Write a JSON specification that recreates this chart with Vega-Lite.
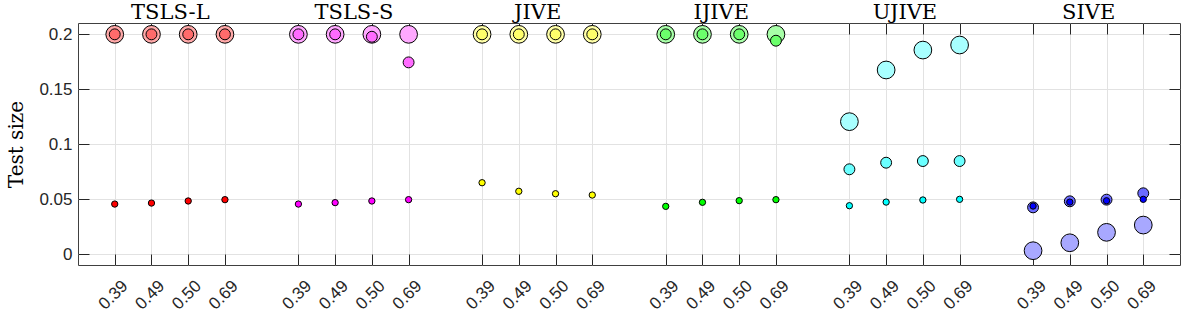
{
  "$schema": "https://vega.github.io/schema/vega-lite/v6.json",
  "width": 1102,
  "height": 242,
  "autosize": {"type": "none"},
  "padding": {"left": 78, "top": 23, "right": 16, "bottom": 51},
  "background": "white",
  "config": {
    "view": {"stroke": "#404040", "strokeWidth": 1},
    "axis": {
      "labelFont": "Liberation Sans",
      "labelFontSize": 17,
      "labelColor": "#262626",
      "tickColor": "#262626",
      "tickWidth": 1,
      "gridColor": "#e2e2e2",
      "gridWidth": 1,
      "domain": false,
      "titleFont": "DejaVu Serif",
      "titleFontWeight": "normal",
      "titleColor": "#000000"
    }
  },
  "datasets": {
    "set3": [
      {"estimator": "TSLS-L", "cell": "TSLS-L|0.39", "value": 0.2},
      {"estimator": "TSLS-L", "cell": "TSLS-L|0.49", "value": 0.2},
      {"estimator": "TSLS-L", "cell": "TSLS-L|0.50", "value": 0.2},
      {"estimator": "TSLS-L", "cell": "TSLS-L|0.69", "value": 0.2},
      {"estimator": "TSLS-S", "cell": "TSLS-S|0.39", "value": 0.2},
      {"estimator": "TSLS-S", "cell": "TSLS-S|0.49", "value": 0.2},
      {"estimator": "TSLS-S", "cell": "TSLS-S|0.50", "value": 0.2},
      {"estimator": "TSLS-S", "cell": "TSLS-S|0.69", "value": 0.2},
      {"estimator": "JIVE", "cell": "JIVE|0.39", "value": 0.2},
      {"estimator": "JIVE", "cell": "JIVE|0.49", "value": 0.2},
      {"estimator": "JIVE", "cell": "JIVE|0.50", "value": 0.2},
      {"estimator": "JIVE", "cell": "JIVE|0.69", "value": 0.2},
      {"estimator": "IJIVE", "cell": "IJIVE|0.39", "value": 0.2},
      {"estimator": "IJIVE", "cell": "IJIVE|0.49", "value": 0.2},
      {"estimator": "IJIVE", "cell": "IJIVE|0.50", "value": 0.2},
      {"estimator": "IJIVE", "cell": "IJIVE|0.69", "value": 0.2},
      {"estimator": "UJIVE", "cell": "UJIVE|0.39", "value": 0.1206},
      {"estimator": "UJIVE", "cell": "UJIVE|0.49", "value": 0.1676},
      {"estimator": "UJIVE", "cell": "UJIVE|0.50", "value": 0.1857},
      {"estimator": "UJIVE", "cell": "UJIVE|0.69", "value": 0.1903},
      {"estimator": "SIVE", "cell": "SIVE|0.39", "value": 0.0033},
      {"estimator": "SIVE", "cell": "SIVE|0.49", "value": 0.0105},
      {"estimator": "SIVE", "cell": "SIVE|0.50", "value": 0.0200},
      {"estimator": "SIVE", "cell": "SIVE|0.69", "value": 0.0266}
    ],
    "set2": [
      {"estimator": "TSLS-L", "cell": "TSLS-L|0.39", "value": 0.2},
      {"estimator": "TSLS-L", "cell": "TSLS-L|0.49", "value": 0.2},
      {"estimator": "TSLS-L", "cell": "TSLS-L|0.50", "value": 0.2},
      {"estimator": "TSLS-L", "cell": "TSLS-L|0.69", "value": 0.2},
      {"estimator": "TSLS-S", "cell": "TSLS-S|0.39", "value": 0.2},
      {"estimator": "TSLS-S", "cell": "TSLS-S|0.49", "value": 0.2},
      {"estimator": "TSLS-S", "cell": "TSLS-S|0.50", "value": 0.1978},
      {"estimator": "TSLS-S", "cell": "TSLS-S|0.69", "value": 0.1745},
      {"estimator": "JIVE", "cell": "JIVE|0.39", "value": 0.2},
      {"estimator": "JIVE", "cell": "JIVE|0.49", "value": 0.2},
      {"estimator": "JIVE", "cell": "JIVE|0.50", "value": 0.2},
      {"estimator": "JIVE", "cell": "JIVE|0.69", "value": 0.2},
      {"estimator": "IJIVE", "cell": "IJIVE|0.39", "value": 0.2},
      {"estimator": "IJIVE", "cell": "IJIVE|0.49", "value": 0.2},
      {"estimator": "IJIVE", "cell": "IJIVE|0.50", "value": 0.2},
      {"estimator": "IJIVE", "cell": "IJIVE|0.69", "value": 0.1942},
      {"estimator": "UJIVE", "cell": "UJIVE|0.39", "value": 0.0773},
      {"estimator": "UJIVE", "cell": "UJIVE|0.49", "value": 0.0833},
      {"estimator": "UJIVE", "cell": "UJIVE|0.50", "value": 0.0848},
      {"estimator": "UJIVE", "cell": "UJIVE|0.69", "value": 0.0848},
      {"estimator": "SIVE", "cell": "SIVE|0.39", "value": 0.0427},
      {"estimator": "SIVE", "cell": "SIVE|0.49", "value": 0.0482},
      {"estimator": "SIVE", "cell": "SIVE|0.50", "value": 0.0497},
      {"estimator": "SIVE", "cell": "SIVE|0.69", "value": 0.0555}
    ],
    "set1": [
      {"estimator": "TSLS-L", "cell": "TSLS-L|0.39", "value": 0.0457},
      {"estimator": "TSLS-L", "cell": "TSLS-L|0.49", "value": 0.0466},
      {"estimator": "TSLS-L", "cell": "TSLS-L|0.50", "value": 0.0485},
      {"estimator": "TSLS-L", "cell": "TSLS-L|0.69", "value": 0.0497},
      {"estimator": "TSLS-S", "cell": "TSLS-S|0.39", "value": 0.0457},
      {"estimator": "TSLS-S", "cell": "TSLS-S|0.49", "value": 0.047},
      {"estimator": "TSLS-S", "cell": "TSLS-S|0.50", "value": 0.0485},
      {"estimator": "TSLS-S", "cell": "TSLS-S|0.69", "value": 0.0497},
      {"estimator": "JIVE", "cell": "JIVE|0.39", "value": 0.0651},
      {"estimator": "JIVE", "cell": "JIVE|0.49", "value": 0.0573},
      {"estimator": "JIVE", "cell": "JIVE|0.50", "value": 0.0551},
      {"estimator": "JIVE", "cell": "JIVE|0.69", "value": 0.0539},
      {"estimator": "IJIVE", "cell": "IJIVE|0.39", "value": 0.0436},
      {"estimator": "IJIVE", "cell": "IJIVE|0.49", "value": 0.0473},
      {"estimator": "IJIVE", "cell": "IJIVE|0.50", "value": 0.0488},
      {"estimator": "IJIVE", "cell": "IJIVE|0.69", "value": 0.0497},
      {"estimator": "UJIVE", "cell": "UJIVE|0.39", "value": 0.0442},
      {"estimator": "UJIVE", "cell": "UJIVE|0.49", "value": 0.0475},
      {"estimator": "UJIVE", "cell": "UJIVE|0.50", "value": 0.0494},
      {"estimator": "UJIVE", "cell": "UJIVE|0.69", "value": 0.05},
      {"estimator": "SIVE", "cell": "SIVE|0.39", "value": 0.0439},
      {"estimator": "SIVE", "cell": "SIVE|0.49", "value": 0.0475},
      {"estimator": "SIVE", "cell": "SIVE|0.50", "value": 0.0487},
      {"estimator": "SIVE", "cell": "SIVE|0.69", "value": 0.05}
    ],
    "groups": [
      {"estimator": "TSLS-L"},
      {"estimator": "TSLS-S"},
      {"estimator": "JIVE"},
      {"estimator": "IJIVE"},
      {"estimator": "UJIVE"},
      {"estimator": "SIVE"}
    ]
  },
  "layer": [
    {
      "layer": [
        {
          "data": {"name": "set3"},
          "mark": {"type": "point", "shape": "circle", "filled": true, "opacity": 1, "stroke": "#000000", "strokeWidth": 1, "size": 314},
          "encoding": {
            "x": {
              "field": "cell", "type": "nominal",
              "scale": {"type": "point", "padding": 0, "domain": ["g0", "TSLS-L|0.39", "TSLS-L|0.49", "TSLS-L|0.50", "TSLS-L|0.69", "g1", "TSLS-S|0.39", "TSLS-S|0.49", "TSLS-S|0.50", "TSLS-S|0.69", "g2", "JIVE|0.39", "JIVE|0.49", "JIVE|0.50", "JIVE|0.69", "g3", "IJIVE|0.39", "IJIVE|0.49", "IJIVE|0.50", "IJIVE|0.69", "g4", "UJIVE|0.39", "UJIVE|0.49", "UJIVE|0.50", "UJIVE|0.69", "g5", "SIVE|0.39", "SIVE|0.49", "SIVE|0.50", "SIVE|0.69", "g6"]},
              "axis": {
                "orient": "bottom",
                "title": null,
                "values": ["TSLS-L|0.39", "TSLS-L|0.49", "TSLS-L|0.50", "TSLS-L|0.69", "TSLS-S|0.39", "TSLS-S|0.49", "TSLS-S|0.50", "TSLS-S|0.69", "JIVE|0.39", "JIVE|0.49", "JIVE|0.50", "JIVE|0.69", "IJIVE|0.39", "IJIVE|0.49", "IJIVE|0.50", "IJIVE|0.69", "UJIVE|0.39", "UJIVE|0.49", "UJIVE|0.50", "UJIVE|0.69", "SIVE|0.39", "SIVE|0.49", "SIVE|0.50", "SIVE|0.69"],
                "labelExpr": "split(datum.value, '|')[1]",
                "labelAngle": -45,
                "labelAlign": "right",
                "labelBaseline": "middle",
                "labelOffset": 10,
                "tickSize": -11,
                "labelPadding": 29,
                "grid": true
              }
            },
            "y": {
              "field": "value", "type": "quantitative",
              "scale": {"domain": [-0.0097, 0.2103], "nice": false, "zero": false},
              "axis": {
                "orient": "left",
                "title": "Test size",
                "titleFontSize": 20,
                "titlePadding": 12,
                "values": [0, 0.05, 0.1, 0.15, 0.2],
                "format": "~g",
                "tickSize": -11,
                "labelPadding": 17,
                "grid": true
              }
            },
            "fill": {
              "field": "estimator", "type": "nominal", "legend": null,
              "scale": {"domain": ["TSLS-L", "TSLS-S", "JIVE", "IJIVE", "UJIVE", "SIVE"], "range": ["#ffa8a8", "#ffa8ff", "#ffffa8", "#a8ffa8", "#a8ffff", "#a8a8ff"]}
            }
          }
        },
        {
          "data": {"name": "set2"},
          "mark": {"type": "point", "shape": "circle", "filled": true, "opacity": 1, "stroke": "#000000", "strokeWidth": 1, "size": 119},
          "encoding": {
            "x": {"field": "cell", "type": "nominal", "axis": null},
            "y": {"field": "value", "type": "quantitative", "axis": null},
            "fill": {
              "field": "estimator", "type": "nominal", "legend": null,
              "scale": {"domain": ["TSLS-L", "TSLS-S", "JIVE", "IJIVE", "UJIVE", "SIVE"], "range": ["#ff6b6b", "#ff6bff", "#ffff6b", "#6bff6b", "#6bffff", "#6b6bff"]}
            }
          }
        },
        {
          "data": {"name": "set1"},
          "mark": {"type": "point", "shape": "circle", "filled": true, "opacity": 1, "stroke": "#000000", "strokeWidth": 1, "size": 40},
          "encoding": {
            "x": {"field": "cell", "type": "nominal", "axis": null},
            "y": {"field": "value", "type": "quantitative", "axis": null},
            "fill": {
              "field": "estimator", "type": "nominal", "legend": null,
              "scale": {"domain": ["TSLS-L", "TSLS-S", "JIVE", "IJIVE", "UJIVE", "SIVE"], "range": ["#ff0000", "#ff00ff", "#ffff00", "#00ff00", "#00ffff", "#0000ff"]}
            }
          }
        },
        {
          "data": {"name": "set1"},
          "mark": {"type": "point", "shape": "circle", "filled": true, "opacity": 0},
          "encoding": {
            "x": {
              "field": "cell", "type": "nominal",
              "axis": {
                "orient": "top",
                "title": null,
                "labels": false,
                "grid": false,
                "tickSize": -11,
                "values": ["TSLS-L|0.39", "TSLS-L|0.49", "TSLS-L|0.50", "TSLS-L|0.69", "TSLS-S|0.39", "TSLS-S|0.49", "TSLS-S|0.50", "TSLS-S|0.69", "JIVE|0.39", "JIVE|0.49", "JIVE|0.50", "JIVE|0.69", "IJIVE|0.39", "IJIVE|0.49", "IJIVE|0.50", "IJIVE|0.69", "UJIVE|0.39", "UJIVE|0.49", "UJIVE|0.50", "UJIVE|0.69", "SIVE|0.39", "SIVE|0.49", "SIVE|0.50", "SIVE|0.69"]
              }
            },
            "y": {
              "field": "value", "type": "quantitative",
              "axis": {"orient": "right", "title": null, "labels": false, "grid": false, "tickSize": -11, "values": [0, 0.05, 0.1, 0.15, 0.2]}
            }
          }
        },
        {
          "mark": {"type": "rule", "color": "#5a5a5a", "strokeWidth": 1},
          "encoding": {
            "y": {"datum": 0.05, "type": "quantitative", "axis": null}
          }
        }
      ],
      "resolve": {
        "scale": {"fill": "independent"},
        "axis": {"x": "independent", "y": "independent"}
      }
    },
    {
      "data": {"name": "groups"},
      "mark": {"type": "point", "opacity": 0},
      "encoding": {
        "x": {
          "field": "estimator", "type": "nominal", "sort": null,
          "scale": {"type": "point", "padding": 0.5},
          "axis": {
            "orient": "top",
            "title": null,
            "ticks": false,
            "grid": false,
            "domain": false,
            "labelAngle": 0,
            "labelFont": "DejaVu Serif",
            "labelFontSize": 21,
            "labelColor": "#000000",
            "labelBaseline": "alphabetic",
            "labelPadding": 5
          }
        }
      }
    }
  ],
  "resolve": {
    "scale": {"x": "independent"},
    "axis": {"x": "independent"}
  }
}
